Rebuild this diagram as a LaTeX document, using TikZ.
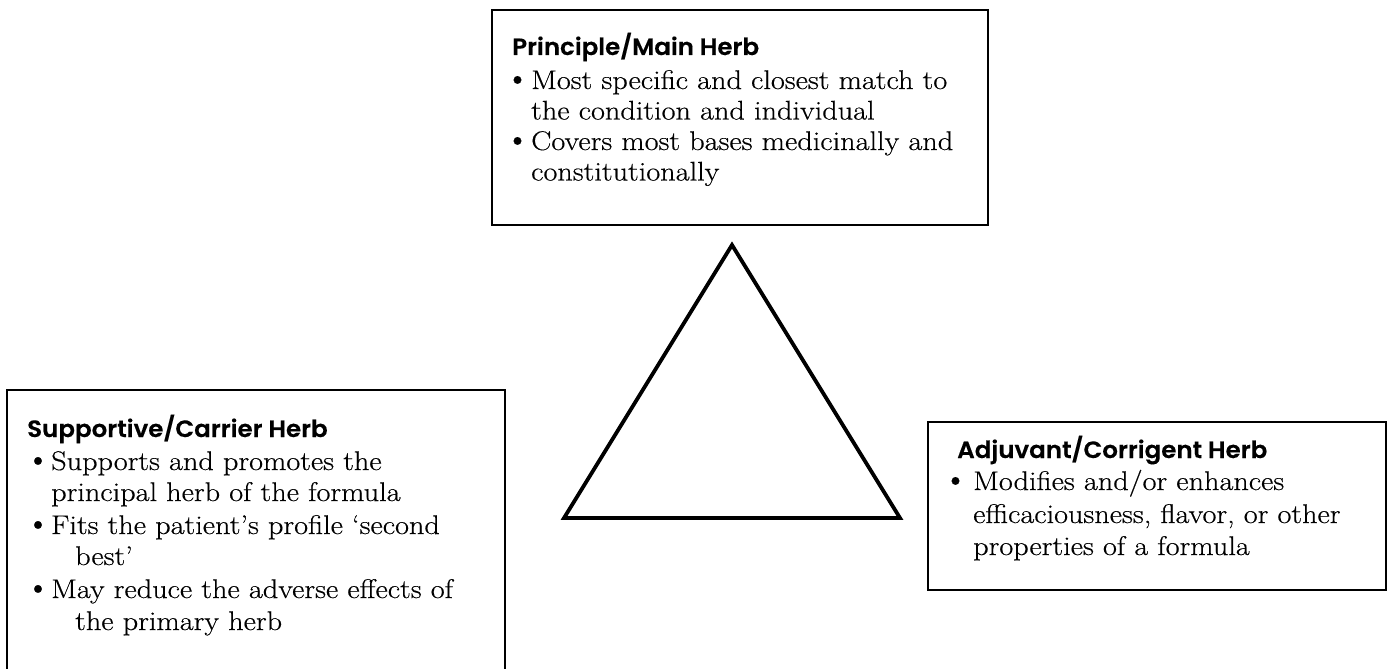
\documentclass[tikz,border=0pt]{standalone}
\usepackage{fontspec}
\setmainfont{Latin Modern Roman}[FakeStretch=1.12,FakeBold=0.4]
\newfontfamily\bulfont{Latin Modern Roman}[FakeBold=0.6]
\newfontfamily\headfont{Poppins SemiBold}[FakeStretch=1.04,FakeBold=0.3]
\begin{document}
\begin{tikzpicture}[x=1pt,y=-1pt,
  box/.style={draw=black,line width=2pt},
  tri/.style={draw=black,line width=3.8pt,line join=miter},
  head/.style={anchor=base west,inner sep=0pt,font=\headfont\fontsize{23.6}{23.6}\selectfont},
  body/.style={anchor=base west,inner sep=0pt,font=\fontsize{27}{27}\selectfont},
  bul/.style={anchor=base,inner sep=0pt,text height=12pt,text depth=0pt,font=\bulfont\fontsize{34}{34}\selectfont}]
\useasboundingbox (0,0) rectangle (1390,669);
% top box
\draw[box] (492,10) rectangle (988,225);
\node[head] (th) at (512,55) {Principle/Main Herb};
\node[bul] (tb1) at (517.5,89) {\textbullet};
\node[body] (t1) at (531,89) {Most specific and closest match to};
\node[body] (t2) at (531,119.5) {the condition and individual};
\node[bul] (tb2) at (517.5,150) {\textbullet};
\node[body] (t3) at (531,150) {Covers most bases medicinally and};
\node[body] (t4) at (531,180.5) {constitutionally};
% left box (open at bottom)
\draw[box] (7,680) -- (7,390) -- (505,390) -- (505,680);
\node[head] (lh) at (27,437) {Supportive/Carrier Herb};
\node[bul] (lb1) at (38,470) {\textbullet};
\node[body] (l1) at (51,470) {Supports and promotes the};
\node[body] (l2) at (51,501) {principal herb of the formula};
\node[bul] (lb2) at (38,534) {\textbullet};
\node[body] (l3) at (51,534) {Fits the patient’s profile ‘second};
\node[body] (l4) at (75,565) {best’};
\node[bul] (lb3) at (38,598) {\textbullet};
\node[body] (l5) at (51,598) {May reduce the adverse effects of};
\node[body] (l6) at (75,630) {the primary herb};
% right box
\draw[box] (928,422) rectangle (1386,590);
\node[head] (rh) at (957,458) {Adjuvant/Corrigent Herb};
\node[bul] (rb1) at (955.5,490) {\textbullet};
\node[body] (r1) at (973,490) {Modifies and/or enhances};
\node[body] (r2) at (973,523) {efficaciousness, flavor, or other};
\node[body] (r3) at (973,555) {properties of a formula};
% triangle
\coordinate (A) at (732,245);
\coordinate (B) at (564,518);
\coordinate (C) at (900,518);
\draw[tri] (A) -- (B) -- (C) -- cycle;
\end{tikzpicture}
\end{document}
